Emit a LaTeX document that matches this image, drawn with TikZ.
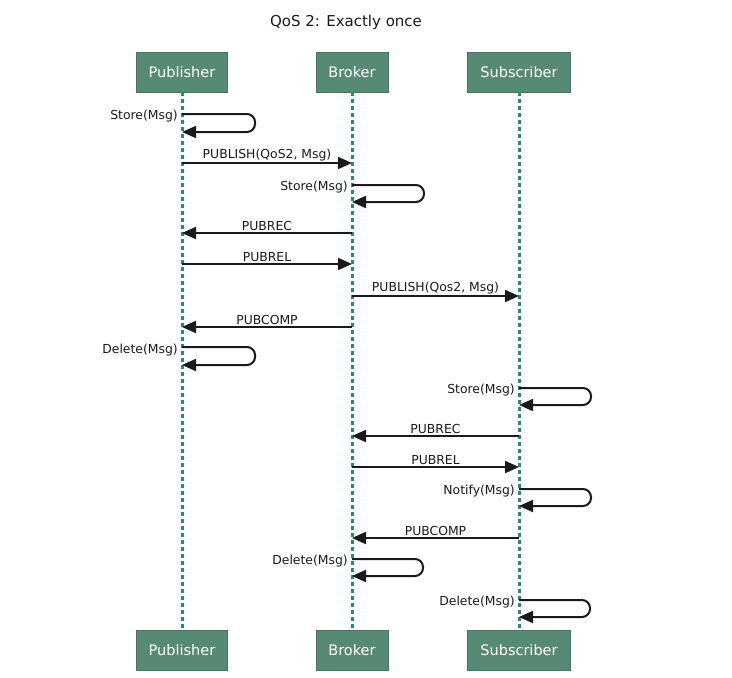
\documentclass[tikz,border=0pt]{standalone}
\usepackage{fontspec}
\setmainfont{DejaVu Sans}
\usetikzlibrary{arrows.meta}
\definecolor{boxgreen}{HTML}{568A75}
\definecolor{lifegreen}{HTML}{2F8A6A}
\definecolor{ink}{HTML}{1A1A1A}
\begin{document}
\begin{tikzpicture}[x=1pt,y=-1pt,
  actor/.style={fill=boxgreen, draw=boxgreen!85!black, line width=0.6pt, text=white,
    font=\fontsize{14.5}{17}\selectfont, minimum height=40pt, inner sep=0pt},
  life/.style={draw=lifegreen, line width=3pt, dash pattern=on 4pt off 3pt},
  msg/.style={draw=ink, line width=2pt, -{Triangle[length=14pt,width=12pt]}},
  loopmsg/.style={msg, rounded corners=8pt},
  lbl/.style={font=\fontsize{12.4}{14}\selectfont, text=ink, inner sep=1pt}]
\useasboundingbox (0,0) rectangle (732,678);
\node[font=\fontsize{15}{18}\selectfont, text=ink] (title) at (346,22) {QoS 2: Exactly once};
% actors
\node[actor, minimum width=91pt]  (pt) at (182,72) {Publisher};
\node[actor, minimum width=72pt]  (bt) at (352,72) {Broker};
\node[actor, minimum width=103pt] (st) at (519,72) {Subscriber};
\node[actor, minimum width=91pt]  (pb) at (182,650.5) {Publisher};
\node[actor, minimum width=72pt]  (bb) at (352,650.5) {Broker};
\node[actor, minimum width=103pt] (sb) at (519,650.5) {Subscriber};
% lifelines
\draw[life] (pt.south) -- (pb.north);
\draw[life] (bt.south) -- (bb.north);
\draw[life] (st.south) -- (sb.north);
% 1 Store at publisher
\draw[loopmsg] (pt |- 0,114) -- (255,114) -- (255,132) -- (pt |- 0,132);
\node[lbl, anchor=east] (l1) at (179,116) {Store(Msg)};
% 2 PUBLISH
\draw[msg] (pt |- 0,163) -- node[lbl, above] (l2) {PUBLISH(QoS2, Msg)} (bt |- 0,163);
% 3 Store at broker
\draw[loopmsg] (bt |- 0,185) -- (424,185) -- (424,202) -- (bt |- 0,202);
\node[lbl, anchor=east] (l3) at (349,187) {Store(Msg)};
% 4 PUBREC
\draw[msg] (bt |- 0,233) -- node[lbl, above] (l4) {PUBREC} (pt |- 0,233);
% 5 PUBREL
\draw[msg] (pt |- 0,264) -- node[lbl, above] (l5) {PUBREL} (bt |- 0,264);
% 6 PUBLISH to subscriber
\draw[msg] (bt |- 0,296) -- node[lbl, above] (l6) {PUBLISH(Qos2, Msg)} (st |- 0,296);
% 7 PUBCOMP
\draw[msg] (bt |- 0,327) -- node[lbl, above] (l7) {PUBCOMP} (pt |- 0,327);
% 8 Delete at publisher
\draw[loopmsg] (pt |- 0,347) -- (255,347) -- (255,365) -- (pt |- 0,365);
\node[lbl, anchor=east] (l8) at (179,350) {Delete(Msg)};
% 9 Store at subscriber
\draw[loopmsg] (st |- 0,388) -- (591,388) -- (591,405) -- (st |- 0,405);
\node[lbl, anchor=east] (l9) at (516,390) {Store(Msg)};
% 10 PUBREC
\draw[msg] (st |- 0,436) -- node[lbl, above] (l10) {PUBREC} (bt |- 0,436);
% 11 PUBREL
\draw[msg] (bt |- 0,467) -- node[lbl, above] (l11) {PUBREL} (st |- 0,467);
% 12 Notify
\draw[loopmsg] (st |- 0,489) -- (591,489) -- (591,506) -- (st |- 0,506);
\node[lbl, anchor=east] (l12) at (516,491) {Notify(Msg)};
% 13 PUBCOMP
\draw[msg] (st |- 0,538) -- node[lbl, above] (l13) {PUBCOMP} (bt |- 0,538);
% 14 Delete at broker
\draw[loopmsg] (bt |- 0,559) -- (423,559) -- (423,576) -- (bt |- 0,576);
\node[lbl, anchor=east] (l14) at (349,561) {Delete(Msg)};
% 15 Delete at subscriber
\draw[loopmsg] (st |- 0,600) -- (590,600) -- (590,617) -- (st |- 0,617);
\node[lbl, anchor=east] (l15) at (516,602) {Delete(Msg)};
\end{tikzpicture}
\end{document}
